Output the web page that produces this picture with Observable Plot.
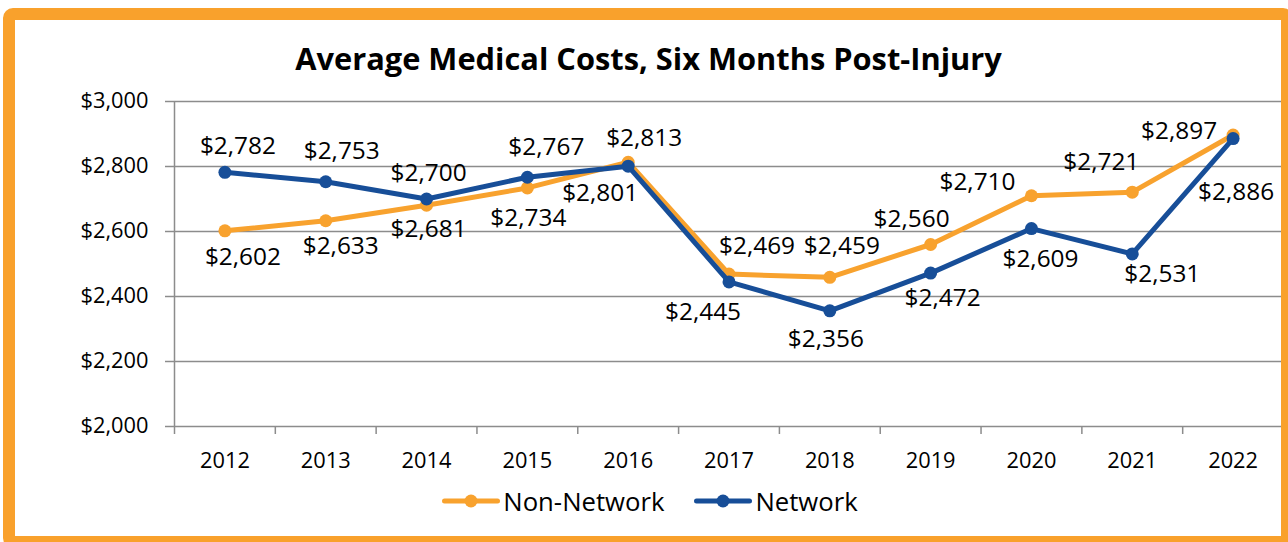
<!DOCTYPE html>
<html><head><meta charset="utf-8">
<script src="https://cdn.jsdelivr.net/npm/d3@7"></script>
<script src="https://cdn.jsdelivr.net/npm/@observablehq/plot@0.6"></script>
<style>
html,body{margin:0;padding:0;background:#fff;width:1288px;height:542px;overflow:hidden;font-family:"Open Sans",sans-serif;}
#frame{position:absolute;left:3px;top:8px;width:1290px;height:540px;box-sizing:border-box;border:12px solid #F9A12C;border-radius:10px;z-index:3;pointer-events:none;}
#title{position:absolute;left:0;top:40px;width:1288px;padding-left:9px;box-sizing:border-box;text-align:center;font-weight:700;font-size:30.8px;line-height:36px;color:#000;}
#chart{position:absolute;left:0;top:80px;}
#legend{position:absolute;left:0;top:486px;width:1288px;height:30px;display:flex;justify-content:center;align-items:center;padding-left:12px;box-sizing:border-box;gap:30px;font-size:25.7px;color:#000;}
.item{display:flex;align-items:center;gap:3px;}
</style></head><body>
<div id="title"></div>
<div id="chart"></div>
<div id="legend"></div>
<div id="frame"></div>
<script>
const title = "Average Medical Costs, Six Months Post-Injury";
const years = [2012, 2013, 2014, 2015, 2016, 2017, 2018, 2019, 2020, 2021, 2022];
const nonNetwork = [2602, 2633, 2681, 2734, 2813, 2469, 2459, 2560, 2710, 2721, 2897];
const network = [2782, 2753, 2700, 2767, 2801, 2445, 2356, 2472, 2609, 2531, 2886];
const yTicks = [2000, 2200, 2400, 2600, 2800, 3000];
const seriesNames = ["Non-Network", "Network"];
const seriesColors = ["#F8A22E", "#174E98"];
// label nudges (px) relative to each point, as placed in the original
const nonNetworkLabelNudge = [[18,26],[15,25],[2,24],[1,30],[16,-24],[28,-28],[12,-31],[-19,-25],[-54,-14],[-31,-30],[-54,-4]];
const networkLabelNudge = [[13,-26],[16,-31],[2,-26],[19,-30],[-28,27],[-26,30],[-4,28],[12,25],[9,31],[30,20],[3,54]];

document.getElementById("title").textContent = title;

const gray = "#8C8C8C";
const fmt = d3.format("$,");
const rows = (vals) => years.map((y, i) => ({year: y, value: vals[i]}));
const seriesData = [rows(nonNetwork), rows(network)];
const nudges = [nonNetworkLabelNudge, networkLabelNudge];
const boundaries = [years[0] - 0.5, ...years.map(y => y + 0.5)];

const marks = [
  Plot.gridY({ticks: yTicks, stroke: gray, strokeOpacity: 1, strokeWidth: 1.5}),
  Plot.ruleX([boundaries[0]], {stroke: gray, strokeWidth: 1.5}),
  Plot.axisY({ticks: yTicks, tickFormat: fmt, tickSize: 9, tickPadding: 17, stroke: gray, strokeWidth: 1.5, fill: "#000", fontSize: 21.8, label: null}),
  Plot.axisX({ticks: boundaries, tickFormat: () => "", tickSize: 8, stroke: gray, strokeWidth: 1.5, label: null}),
  Plot.axisX({ticks: years, tickFormat: d => String(d), tickSize: 0, tickPadding: 26, fill: "#000", fontSize: 21.8, label: null})
];
seriesData.forEach((data, s) => {
  marks.push(Plot.line(data, {x: "year", y: "value", stroke: seriesColors[s], strokeWidth: 5, strokeLinejoin: "round", strokeLinecap: "round"}));
  marks.push(Plot.dot(data, {x: "year", y: "value", r: 6.5, fill: seriesColors[s], stroke: "none"}));
});
seriesData.forEach((data, s) => {
  data.forEach((d, i) => {
    marks.push(Plot.text([d], {x: "year", y: "value", text: dd => fmt(dd.value), dx: nudges[s][i][0], dy: nudges[s][i][1], fontSize: 24.4, fill: "#000"}));
  });
});

const chart = Plot.plot({
  width: 1288, height: 400,
  marginLeft: 174, marginRight: 5, marginTop: 21, marginBottom: 54,
  x: {type: "linear", domain: [boundaries[0], boundaries[boundaries.length - 1]], axis: null},
  y: {domain: [2000, 3000], axis: null},
  style: {fontFamily: "Open Sans", color: "#000", background: "transparent", overflow: "visible"},
  marks
});
document.getElementById("chart").appendChild(chart);

const legend = d3.select("#legend");
seriesNames.forEach((name, s) => {
  const item = legend.append("div").attr("class", "item");
  const svg = item.append("svg").attr("width", 58).attr("height", 16);
  svg.append("line").attr("x1", 2.5).attr("x2", 55.5).attr("y1", 8).attr("y2", 8).attr("stroke", seriesColors[s]).attr("stroke-width", 5).attr("stroke-linecap", "round");
  svg.append("circle").attr("cx", 29).attr("cy", 8).attr("r", 6.5).attr("fill", seriesColors[s]);
  item.append("span").text(name);
});
</script>
</body></html>
